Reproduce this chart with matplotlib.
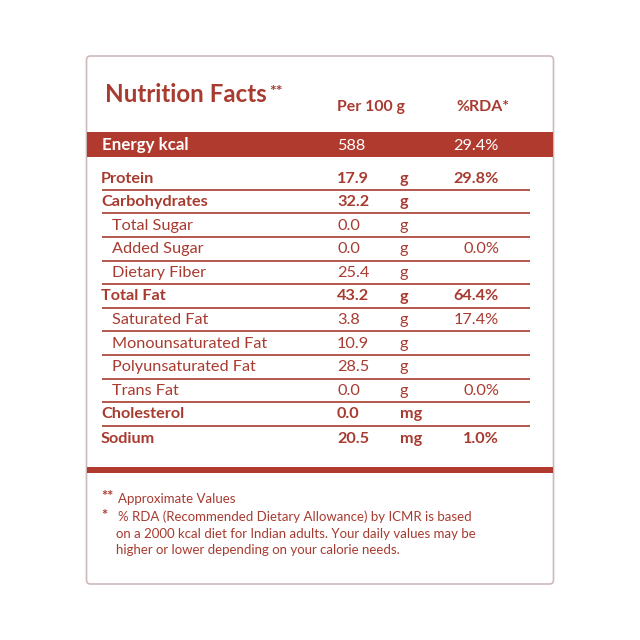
import matplotlib
matplotlib.use("Agg")
import matplotlib.pyplot as plt
from matplotlib.patches import FancyBboxPatch, Rectangle

plt.rcParams['font.family'] = ['Lato', 'DejaVu Sans']

# ---- data ----
nutrients = ["Protein", "Carbohydrates", "Total Sugar", "Added Sugar", "Dietary Fiber",
             "Total Fat", "Saturated Fat", "Monounsaturated Fat", "Polyunsaturated Fat",
             "Trans Fat", "Cholesterol", "Sodium"]
values = ["17.9", "32.2", "0.0", "0.0", "25.4", "43.2", "3.8", "10.9", "28.5", "0.0", "0.0", "20.5"]
units = ["g", "g", "g", "g", "g", "g", "g", "g", "g", "g", "mg", "mg"]
rda = ["29.8%", "", "", "0.0%", "", "64.4%", "17.4%", "", "", "0.0%", "", "1.0%"]
is_main = [True, True, False, False, False, True, False, False, False, False, True, True]
energy_label = "Energy kcal"
energy_value = "588"
energy_rda = "29.4%"
title = "Nutrition Facts"
header_cols = ["Per 100 g", "%RDA*"]
footnotes = [("**", "Approximate Values"),
             ("*", "% RDA (Recommended Dietary Allowance) by ICMR is based\non a 2000 kcal diet for Indian adults. Your daily values may be\nhigher or lower depending on your calorie needs.")]

# ---- style ----
RED = "#a83b30"
BAND = "#b13a2e"
BORDER = "#cdb9b9"
FS = 11.7

fig = plt.figure(figsize=(6.4, 6.4), dpi=100)
ax = fig.add_axes([0, 0, 1, 1])
ax.set_xlim(0, 640)
ax.set_ylim(640, 0)
ax.axis('off')

# outer box
box = FancyBboxPatch((86.5, 56), 467, 528, boxstyle="round,pad=0,rounding_size=4",
                     fc="white", ec=BORDER, lw=1.2)
ax.add_patch(box)

# title + headers
ax.text(105, 101.5, title, color=RED, fontsize=17.4, fontweight='bold', va='baseline', ha='left')
ax.text(269.5, 96, "**", color=RED, fontsize=11.5, fontweight='bold', va='baseline', ha='left')
ax.text(337, 111, header_cols[0], color=RED, fontsize=11.4, fontweight='bold', va='baseline', ha='left')
ax.text(456, 111, header_cols[1], color=RED, fontsize=11.4, fontweight='bold', va='baseline', ha='left')

# energy band
ax.add_patch(Rectangle((87, 132), 466, 25, fc=BAND, ec='none'))
ax.text(102, 150, energy_label, color='white', fontsize=12.2, fontweight='bold', va='baseline')
ax.text(337, 150, energy_value, color='white', fontsize=FS, va='baseline')
ax.text(499, 150, energy_rda, color='white', fontsize=FS, va='baseline', ha='right')

# rows
baselines = [182.7, 206, 229.6, 253.2, 276.8, 300.5, 324, 347.6, 371.2, 394.7, 418.2, 443]
for i, name in enumerate(nutrients):
    y = baselines[i]
    w = 'bold' if is_main[i] else 'normal'
    x0 = 101 if is_main[i] else 112
    ax.text(x0, y, name, color=RED, fontsize=FS, fontweight=w, va='baseline')
    ax.text(337, y, values[i], color=RED, fontsize=FS, fontweight=w, va='baseline')
    ax.text(400, y, units[i], color=RED, fontsize=FS, fontweight=w, va='baseline')
    if rda[i]:
        ax.text(499, y, rda[i], color=RED, fontsize=FS, fontweight=w, va='baseline', ha='right')
    if i < len(nutrients) - 1:
        ly = y + 7.4
        ax.plot([101.5, 530], [ly, ly], color=RED, lw=1.2, solid_capstyle='butt')

# bottom thick band
ax.add_patch(Rectangle((87, 467), 466, 6, fc=BAND, ec='none'))

# footnotes
ax.text(101, 501, footnotes[0][0], color=RED, fontsize=10.5, fontweight='bold', va='baseline')
ax.text(118, 503, footnotes[0][1], color=RED, fontsize=9.5, va='baseline')
ax.text(101, 520, footnotes[1][0], color=RED, fontsize=10.5, fontweight='bold', va='baseline')
lines = footnotes[1][1].split("\n")
fx = [118, 116, 116]
fy = [521, 537.5, 554]
for t, x, y in zip(lines, fx, fy):
    ax.text(x, y, t, color=RED, fontsize=9.5, va='baseline')

fig.savefig("out.png", dpi=100, facecolor='white')
